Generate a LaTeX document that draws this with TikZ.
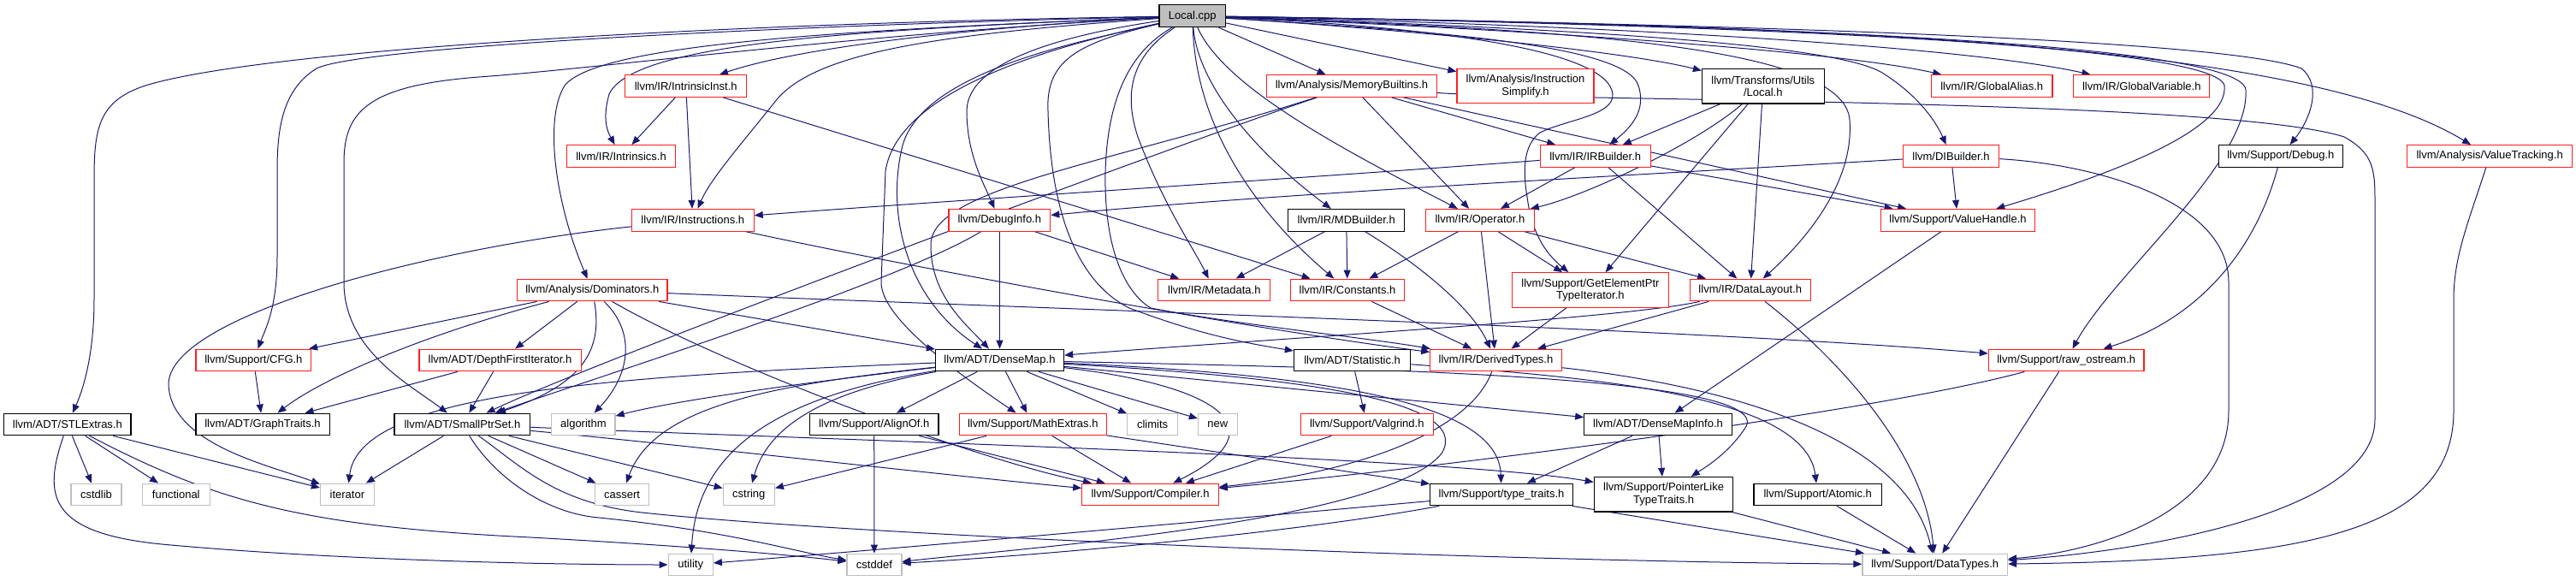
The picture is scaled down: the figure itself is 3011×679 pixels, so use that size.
\documentclass[tikz,border=0pt]{standalone}
\usepackage{fontspec}
\setmainfont{Liberation Sans}
\usetikzlibrary{arrows.meta}
\definecolor{edgec}{RGB}{25,25,112}
\definecolor{nred}{RGB}{255,30,30}
\definecolor{ngray}{RGB}{191,191,191}
\pgfdeclarelayer{bg}
\pgfsetlayers{bg,main}
\begin{document}
\begin{tikzpicture}[x=1pt,y=-1pt,
  nd/.style={rectangle, draw, fill=white, inner sep=0pt, minimum height=25.6pt, line width=1.2pt, font=\fontsize{13}{14.5}\selectfont, align=center},
  rn/.style={nd, draw=nred},
  bn/.style={nd, draw=black},
  gn/.style={nd, draw=ngray},
  two/.style={minimum height=40.5pt},
  e/.style={draw=edgec, line width=1pt, -{Triangle[length=10pt,width=8pt]}, fill=none}]
\useasboundingbox (0,0) rectangle (3011,679);
% nodes
\node[bn, fill=ngray, minimum width=77.5pt] (lc) at (1393.8,18.7) {Local.cpp};
\node[rn, minimum width=199pt] (mb) at (1580,100.5) {llvm/Analysis/MemoryBuiltins.h};
\node[rn, two, minimum width=160pt] (isim) at (1783,100.5) {llvm/Analysis/Instruction\\Simplify.h};
\node[bn, two, minimum width=142.7pt] (tl) at (2060.8,100.7) {llvm/Transforms/Utils\\/Local.h};
\node[rn, minimum width=141.5pt] (ga) at (2328.2,100.5) {llvm/IR/GlobalAlias.h};
\node[rn, minimum width=159pt] (gv) at (2503.3,100.5) {llvm/IR/GlobalVariable.h};
\node[rn, minimum width=142.3pt] (ii) at (801.7,100.5) {llvm/IR/IntrinsicInst.h};
\node[rn, minimum width=127pt] (intr) at (726,182.5) {llvm/IR/Intrinsics.h};
\node[rn, minimum width=129pt] (irb) at (1864.7,182.5) {llvm/IR/IRBuilder.h};
\node[rn, minimum width=112.3pt] (dib) at (2280.5,182.5) {llvm/DIBuilder.h};
\node[bn, minimum width=145pt] (dbgh) at (2665.8,182.5) {llvm/Support/Debug.h};
\node[rn, minimum width=192.5pt] (vt) at (2910.1,182.5) {llvm/Analysis/ValueTracking.h};
\node[rn, minimum width=142.7pt] (ins) at (809.8,257.3) {llvm/IR/Instructions.h};
\node[rn, minimum width=118.8pt] (dbg) at (1168.3,257.3) {llvm/DebugInfo.h};
\node[bn, minimum width=136pt] (mdb) at (1573.7,257.3) {llvm/IR/MDBuilder.h};
\node[rn, minimum width=126.5pt] (op) at (1729.9,257.3) {llvm/IR/Operator.h};
\node[rn, minimum width=180pt] (vh) at (2288.5,257.3) {llvm/Support/ValueHandle.h};
\node[rn, minimum width=175.2pt] (dom) at (692.3,339) {llvm/Analysis/Dominators.h};
\node[rn, minimum width=131pt] (md) at (1419.3,339) {llvm/IR/Metadata.h};
\node[rn, minimum width=133.3pt] (cst) at (1575,339) {llvm/IR/Constants.h};
\node[rn, two, minimum width=183pt] (gep) at (1858.9,339) {llvm/Support/GetElementPtr\\TypeIterator.h};
\node[rn, minimum width=141.2pt] (dl) at (2045.8,339) {llvm/IR/DataLayout.h};
\node[rn, minimum width=134.8pt] (cfg) at (296.4,421) {llvm/Support/CFG.h};
\node[rn, minimum width=189.2pt] (dfi) at (584.5,421) {llvm/ADT/DepthFirstIterator.h};
\node[bn, minimum width=150pt] (dm) at (1168.5,421) {llvm/ADT/DenseMap.h};
\node[bn, minimum width=136.4pt] (stat) at (1580.6,421) {llvm/ADT/Statistic.h};
\node[rn, minimum width=153.6pt] (dty) at (1748.5,421) {llvm/IR/DerivedTypes.h};
\node[rn, minimum width=181.7pt] (ro) at (2415.2,421) {llvm/Support/raw\_ostream.h};
\node[bn, minimum width=148.3pt] (stl) at (78.9,496) {llvm/ADT/STLExtras.h};
\node[bn, minimum width=156.2pt] (gt) at (307,496) {llvm/ADT/GraphTraits.h};
\node[bn, minimum width=158.8pt] (spt) at (540.4,496) {llvm/ADT/SmallPtrSet.h};
\node[gn, minimum width=74.3pt] (alg) at (681.9,496) {algorithm};
\node[bn, minimum width=150.6pt] (ao) at (1021.7,496) {llvm/Support/AlignOf.h};
\node[rn, minimum width=172pt] (mx) at (1207.3,496) {llvm/Support/MathExtras.h};
\node[gn, minimum width=58.5pt] (cl) at (1347.1,496) {climits};
\node[gn, minimum width=45.9pt] (nw) at (1423.4,496) {new};
\node[rn, minimum width=155pt] (vg) at (1597.8,496) {llvm/Support/Valgrind.h};
\node[bn, minimum width=172.4pt] (dmi) at (1938,496) {llvm/ADT/DenseMapInfo.h};
\node[gn, minimum width=59pt] (csl) at (112.5,578) {cstdlib};
\node[gn, minimum width=78.7pt] (fn) at (205.8,578) {functional};
\node[gn, minimum width=62.9pt] (it) at (405.9,578) {iterator};
\node[gn, minimum width=63.3pt] (cas) at (727,578) {cassert};
\node[gn, minimum width=60.1pt] (cstr) at (875.3,578) {cstring};
\node[rn, minimum width=159.4pt] (cmp) at (1344.5,578) {llvm/Support/Compiler.h};
\node[bn, minimum width=166.7pt] (tt) at (1755,578) {llvm/Support/type\_traits.h};
\node[bn, two, minimum width=162.5pt] (plt) at (1944.6,577.7) {llvm/Support/PointerLike\\TypeTraits.h};
\node[bn, minimum width=149.5pt] (atm) at (2124.7,578) {llvm/Support/Atomic.h};
\node[gn, minimum width=52.2pt] (ut) at (807.2,660) {utility};
\node[gn, minimum width=64pt] (cdf) at (1021.9,660) {cstddef};
\node[gn, minimum width=169.6pt] (dtt) at (2261.7,660) {llvm/Support/DataTypes.h};

\begin{pgfonlayer}{bg}
% Local.cpp
\draw[e] (lc) .. controls (800,28) and (300,60) .. (170,100) .. controls (115,118) and (110,150) .. (110,210) -- (110,350) .. controls (110,420) and (95,460) .. (stl);
\draw[e] (lc) .. controls (900,30) and (420,55) .. (370,80) .. controls (330,105) and (324,150) .. (324,200) -- (324,300) .. controls (324,360) and (310,385) .. (cfg);
\draw[e] (lc) .. controls (1000,40) and (700,80) .. (560,90) .. controls (430,100) and (402,130) .. (402,190) -- (402,330) .. controls (402,410) and (480,450) .. (spt);
\draw[e] (lc) .. controls (1000,35) and (740,50) .. (712,110) .. controls (705,135) and (708,150) .. (intr);
\draw[e] (lc) .. controls (1000,35) and (700,50) .. (660,100) .. controls (635,140) and (650,240) .. (dom);
\draw[e] (lc) .. controls (1100,40) and (950,60) .. (905,120) .. controls (865,170) and (830,210) .. (ins);
\draw[e] (lc) .. controls (1200,28) and (950,50) .. (ii);
\draw[e] (lc) .. controls (1250,40) and (1130,70) .. (1130,130) .. controls (1130,180) and (1150,215) .. (dbg);
\draw[e] (lc) .. controls (1280,45) and (1080,80) .. (1055,170) .. controls (1035,250) and (1060,350) .. (dm);
\draw[e] (lc) .. controls (1250,50) and (1050,100) .. (1035,200) -- (1030,330) .. controls (1030,370) and (1110,430) .. (mx);
\draw[e] (lc) .. controls (1260,50) and (1222,70) .. (1225,130) .. controls (1228,250) and (1260,330) .. (1320,360) .. controls (1400,390) and (1450,400) .. (stat);
\draw[e] (lc) .. controls (1330,55) and (1295,100) .. (1292,200) .. controls (1290,300) and (1320,345) .. (1345,360) .. controls (1450,380) and (1600,395) .. (dty);
\draw[e] (lc) .. controls (1330,60) and (1310,100) .. (1330,160) .. controls (1360,240) and (1395,290) .. (md);
\draw[e] (lc) .. controls (1398,150) and (1470,250) .. (cst);
\draw[e] (lc) .. controls (1400,100) and (1470,180) .. (mdb);
\draw[e] (lc) .. controls (1430,100) and (1560,170) .. (op);
\draw[e] (lc) -- (mb);
\draw[e] (lc) -- (isim);
\draw[e] (lc) .. controls (1650,35) and (1900,60) .. (tl);
\draw[e] (lc) .. controls (1800,35) and (2150,60) .. (ga);
\draw[e] (lc) .. controls (1900,30) and (2300,55) .. (gv);
\draw[e] (lc) .. controls (2000,28) and (2600,45) .. (2690,80) .. controls (2715,100) and (2700,140) .. (dbgh);
\draw[e] (lc) .. controls (2200,30) and (2700,55) .. (vt);
\draw[e] (lc) .. controls (1900,35) and (2150,55) .. (2200,85) .. controls (2240,110) and (2262,140) .. (dib);
\draw[e] (lc) .. controls (1650,35) and (1900,50) .. (1915,100) .. controls (1925,130) and (1905,150) .. (irb);
\draw[e] (lc) .. controls (1850,35) and (2155,55) .. (2162,140) .. controls (2168,220) and (2100,290) .. (dl);
\draw[e] (lc) .. controls (2100,30) and (2590,55) .. (2600,100) .. controls (2605,150) and (2480,200) .. (vh);
\draw[e] (lc) .. controls (2150,30) and (2620,55) .. (2625,105) .. controls (2630,190) and (2470,320) .. (ro);
\draw[e] (lc) .. controls (1650,30) and (1880,55) .. (1885,110) .. controls (1887,135) and (1830,140) .. (1800,155) .. controls (1780,170) and (1780,200) .. (1785,230) .. controls (1790,270) and (1805,295) .. (gep);
% MemoryBuiltins
\draw[e] (mb) .. controls (1400,160) and (700,420) .. (spt);
\draw[e] (mb) .. controls (1300,190) and (1090,220) .. (1088,285) .. controls (1087,345) and (1130,380) .. (dm);
\draw[e] (mb) -- (op);
\draw[e] (mb) -- (irb);
\draw[e] (mb) -- (vh);
\draw[e] (mb) .. controls (1800,118) and (2600,115) .. (2740,160) .. controls (2776,180) and (2776,200) .. (2776,240) -- (2776,490) .. controls (2776,600) and (2500,645) .. (dtt);
% IntrinsicInst
\draw[e] (ii) -- (intr);
\draw[e] (ii) -- (ins);
\draw[e] (ii) -- (cst);
% Instructions
\draw[e] (ins) .. controls (500,290) and (195,370) .. (197,450) .. controls (200,520) and (320,545) .. (it);
\draw[e] (ins) .. controls (1100,320) and (1500,390) .. (dty);
% DebugInfo
\draw[e] (dbg) -- (dm);
\draw[e] (dbg) -- (md);
\draw[e] (dbg) .. controls (1050,330) and (700,440) .. (spt);
% Dominators
\draw[e] (dom) -- (dfi);
\draw[e] (dom) -- (cfg);
\draw[e] (dom) .. controls (500,390) and (380,440) .. (gt);
\draw[e] (dom) .. controls (705,410) and (680,450) .. (spt);
\draw[e] (dom) .. controls (745,390) and (735,440) .. (alg);
\draw[e] (dom) -- (dm);
\draw[e] (dom) .. controls (850,430) and (1150,540) .. (cmp);
\draw[e] (dom) .. controls (1200,360) and (2000,385) .. (ro);
% DFI, CFG
\draw[e] (dfi) -- (gt);
\draw[e] (dfi) -- (spt);
\draw[e] (cfg) -- (gt);
% STLExtras
\draw[e] (stl) -- (csl);
\draw[e] (stl) -- (fn);
\draw[e] (stl) -- (it);
\draw[e] (stl) .. controls (250,585) and (350,615) .. (620,628) .. controls (800,638) and (920,648) .. (cdf);
\draw[e] (stl) .. controls (50,580) and (55,625) .. (200,637) .. controls (400,655) and (650,660) .. (ut);
% SmallPtrSet
\draw[e] (spt) -- (it);
\draw[e] (spt) -- (cas);
\draw[e] (spt) -- (cstr);
\draw[e] (spt) .. controls (580,560) and (640,600) .. (700,605) .. controls (850,620) and (930,645) .. (cdf);
\draw[e] (spt) .. controls (610,545) and (650,590) .. (760,600) .. controls (1000,625) and (1700,655) .. (dtt);
\draw[e] (spt) .. controls (1000,515) and (1700,535) .. (plt);
\draw[e] (spt) .. controls (800,520) and (1100,555) .. (cmp);
% DenseMap
\draw[e] (dm) .. controls (1000,440) and (800,465) .. (alg);
\draw[e] (dm) .. controls (900,450) and (765,475) .. (cas);
\draw[e] (dm) .. controls (900,465) and (815,530) .. (ut);
\draw[e] (dm) .. controls (980,455) and (900,490) .. (cstr);
\draw[e] (dm) .. controls (700,440) and (420,460) .. (it);
\draw[e] (dm) -- (ao);
\draw[e] (dm) -- (mx);
\draw[e] (dm) -- (cl);
\draw[e] (dm) -- (nw);
\draw[e] (dm) .. controls (1420,450) and (1500,500) .. (cmp);
\draw[e] (dm) .. controls (1600,440) and (1752,480) .. (tt);
\draw[e] (dm) .. controls (1500,440) and (1725,465) .. (1685,530) .. controls (1620,610) and (1200,640) .. (cdf);
\draw[e] (dm) -- (dmi);
\draw[e] (dm) .. controls (1600,430) and (2080,440) .. (2040,500) .. controls (2020,530) and (1995,545) .. (plt);
% Statistic
\draw[e] (stat) -- (vg);
\draw[e] (stat) .. controls (1850,440) and (2110,460) .. (atm);
% MathExtras
\draw[e] (mx) -- (cmp);
\draw[e] (mx) -- (cstr);
\draw[e] (mx) -- (tt);
% AlignOf
\draw[e] (ao) -- (cdf);
\draw[e] (ao) -- (cmp);
\draw[e] (vg) -- (cmp);
% DerivedTypes
\draw[e] (dty) .. controls (1720,500) and (1600,550) .. (cmp);
\draw[e] (dty) .. controls (2050,455) and (2230,520) .. (dtt);
% raw_ostream
\draw[e] (ro) .. controls (2200,480) and (1700,545) .. (cmp);
\draw[e] (ro) -- (dtt);
% misc
\draw[e] (vh) -- (dmi);
\draw[e] (dmi) -- (plt);
\draw[e] (dmi) -- (tt);
\draw[e] (plt) -- (dtt);
\draw[e] (atm) -- (dtt);
\draw[e] (tt) -- (dtt);
\draw[e] (tt) .. controls (1400,610) and (1000,645) .. (ut);
\draw[e] (tt) .. controls (1500,625) and (1200,650) .. (cdf);
% DataLayout
\draw[e] (dl) .. controls (1900,372) and (1500,395) .. (dm);
\draw[e] (dl) -- (dty);
\draw[e] (dl) .. controls (2150,420) and (2250,530) .. (dtt);
% Operator
\draw[e] (op) -- (cst);
\draw[e] (op) -- (dty);
\draw[e] (op) -- (gep);
\draw[e] (op) -- (dl);
% MDBuilder
\draw[e] (mdb) -- (md);
\draw[e] (mdb) -- (cst);
\draw[e] (mdb) .. controls (1660,310) and (1720,360) .. (dty);
\draw[e] (cst) -- (dty);
\draw[e] (gep) -- (dty);
% IRBuilder
\draw[e] (irb) .. controls (1500,210) and (1100,235) .. (ins);
\draw[e] (irb) -- (op);
\draw[e] (irb) -- (dl);
\draw[e] (irb) -- (vh);
% Local.h
\draw[e] (tl) -- (irb);
\draw[e] (tl) .. controls (1980,170) and (1850,230) .. (op);
\draw[e] (tl) -- (gep);
\draw[e] (tl) -- (dl);
% DIBuilder
\draw[e] (dib) .. controls (2000,200) and (1500,225) .. (dbg);
\draw[e] (dib) -- (vh);
\draw[e] (dib) .. controls (2450,192) and (2605,235) .. (2605,330) -- (2605,480) .. controls (2605,600) and (2450,645) .. (dtt);
% ValueTracking, Debug
\draw[e] (vt) .. controls (2885,260) and (2868,300) .. (2868,350) -- (2868,480) .. controls (2868,620) and (2700,655) .. (dtt);
\draw[e] (dbgh) .. controls (2640,280) and (2580,370) .. (ro);
\end{pgfonlayer}
\end{tikzpicture}
\end{document}
